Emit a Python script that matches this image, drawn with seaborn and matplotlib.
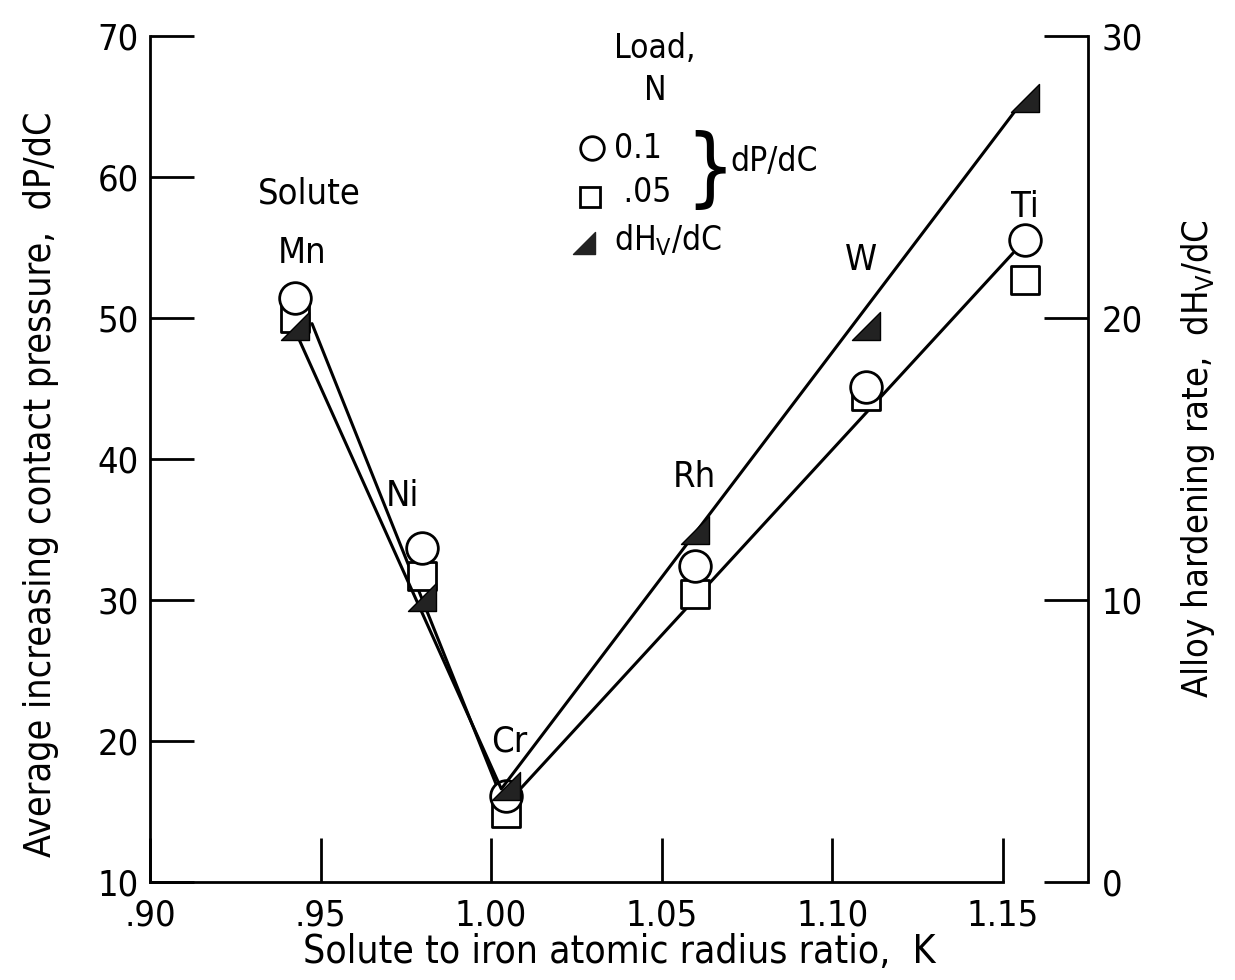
import matplotlib
matplotlib.use('Agg')
import matplotlib.pyplot as plt
import seaborn as sns
import pandas as pd
from matplotlib.path import Path

# data
solutes = ['Mn', 'Ni', 'Cr', 'Rh', 'W', 'Ti']
K = [0.9424, 0.9796, 1.0045, 1.0597, 1.110, 1.1564]
dPdC_01 = [51.4, 33.7, 16.1, 32.4, 45.1, 55.5]     # load 0.1 N
dPdC_005 = [50.0, 31.7, 14.9, 30.4, 44.5, 52.7]    # load 0.05 N
dHvdC = [19.7, 10.1, 3.4, 12.5, 19.7, 27.8]

# faired lines
dP_line_K = [0.9475, 1.004, 1.153]
dP_line_val = [49.6, 15.4, 54.6]
dHv_line_K = [0.9433, 1.003, 1.154]
dHv_line_val = [19.35, 3.3, 27.4]

# solute label positions
label_K = [0.9447, 0.9740, 1.0054, 1.0596, 1.1083, 1.1564]
label_val = [54.6, 37.4, 20.0, 38.7, 54.1, 57.9]

xticks = [0.90, 0.95, 1.00, 1.05, 1.10, 1.15]
xticklabels = ['.90', '.95', '1.00', '1.05', '1.10', '1.15']

sns.set_style('ticks')
plt.rcParams['font.family'] = ['DejaVu Sans']
plt.rcParams['font.stretch'] = 'condensed'
plt.rcParams['mathtext.default'] = 'regular'
for k in ['text.color', 'axes.labelcolor', 'xtick.color', 'ytick.color', 'axes.edgecolor']:
    plt.rcParams[k] = 'black'

fig = plt.figure(figsize=(12.35, 9.8), dpi=100)
ax = fig.add_axes([150/1235, 1-882/980, 938/1235, 846/980])
ax2 = ax.twinx()

# triangle marker with right angle at bottom right
tri = Path([(-1, -1), (1, -1), (1, 1), (-1, -1)], [Path.MOVETO, Path.LINETO, Path.LINETO, Path.CLOSEPOLY])

pts = pd.DataFrame({'K': K, 'p01': dPdC_01, 'p005': dPdC_005, 'hv': dHvdC})

# lines
sns.lineplot(x=dP_line_K, y=dP_line_val, ax=ax, color='black', lw=2.2, sort=False)
sns.lineplot(x=dHv_line_K, y=dHv_line_val, ax=ax2, color='black', lw=2.2, sort=False)

# markers
sns.scatterplot(data=pts, x='K', y='p005', ax=ax, marker='s', s=420, facecolor='white',
                edgecolor='black', linewidth=2, zorder=3)
sns.scatterplot(data=pts, x='K', y='p01', ax=ax, marker='o', s=520, facecolor='white',
                edgecolor='black', linewidth=2, zorder=4)
sns.scatterplot(data=pts, x='K', y='hv', ax=ax2, marker=tri, s=400, color='#222222',
                edgecolor='black', linewidth=1, zorder=5)

ax.set_xlim(0.90, 1.175)
ax.set_ylim(10, 70)
ax2.set_ylim(0, 30)

ax.set_xticks(xticks)
ax.set_xticklabels(xticklabels)
ax.set_yticks(range(10, 71, 10))
ax2.set_yticks([0, 10, 20, 30])

for a in (ax, ax2):
    a.set_xlabel('')
    a.set_ylabel('')
    for s in a.spines.values():
        s.set_linewidth(2)
ax.spines['top'].set_visible(False)
ax.spines['right'].set_visible(False)
ax.spines['bottom'].set_bounds(0.90, 1.15)
ax2.spines['top'].set_visible(False)
ax2.spines['left'].set_visible(False)
ax2.spines['bottom'].set_visible(False)

ax.tick_params(axis='both', direction='in', length=32, width=2, labelsize=26)
ax.tick_params(axis='x', pad=12)
ax.tick_params(axis='y', pad=8)
ax2.tick_params(axis='y', direction='in', length=32, width=2, labelsize=26, pad=10)

ax.set_xlabel('Solute to iron atomic radius ratio,  K', fontsize=28, labelpad=0)
ax.set_ylabel('Average increasing contact pressure,  dP/dC', fontsize=27)
ax.yaxis.set_label_coords(-0.097, 0.47)
ax2.set_ylabel('Alloy hardening rate,  dH$_V$/dC', fontsize=26, labelpad=26)

# solute labels
ax.text(0.9468, 58.8, 'Solute', fontsize=26, ha='center', va='center')
for name, kx, ky in zip(solutes, label_K, label_val):
    ax.text(kx, ky, name, fontsize=26, ha='center', va='center')

# key
def fx(px):
    return (px - 150) / 938

def fy(py):
    return (882 - py) / 846

ax.text(fx(655), fy(48), 'Load,', transform=ax.transAxes, fontsize=24, ha='center', va='center')
ax.text(fx(655), fy(90), 'N', transform=ax.transAxes, fontsize=24, ha='center', va='center')
ax.plot(fx(592), fy(148), 'o', transform=ax.transAxes, ms=17, mfc='white', mec='black', mew=2, clip_on=False)
ax.text(fx(614), fy(148), '0.1', transform=ax.transAxes, fontsize=24, ha='left', va='center')
ax.plot(fx(590), fy(197), 's', transform=ax.transAxes, ms=15, mfc='white', mec='black', mew=2, clip_on=False)
ax.text(fx(614), fy(193), ' .05', transform=ax.transAxes, fontsize=24, ha='left', va='center')
ax.text(fx(710), fy(172), '}', transform=ax.transAxes, fontsize=62, ha='center', va='center',
        fontweight='light')
ax.text(fx(730), fy(162), 'dP/dC', transform=ax.transAxes, fontsize=24, ha='left', va='center')
ax.plot(fx(584), fy(243), marker=tri, transform=ax.transAxes, ms=16, color='#222222', clip_on=False)
ax.text(fx(614), fy(240), 'dH$_V$/dC', transform=ax.transAxes, fontsize=24, ha='left', va='center')

fig.savefig('out.png', dpi=100)
